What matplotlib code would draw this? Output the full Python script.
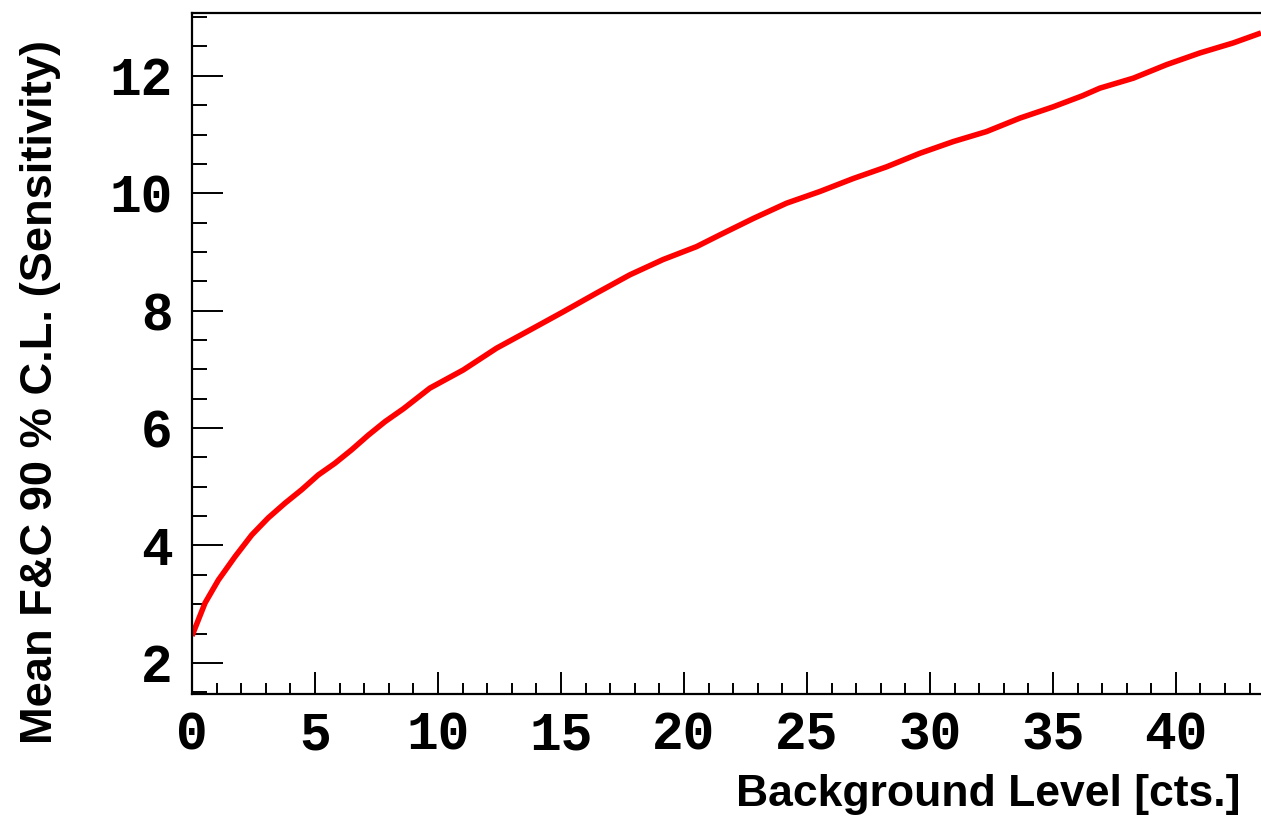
import matplotlib
matplotlib.use("Agg")
import matplotlib.pyplot as plt
from matplotlib.ticker import MultipleLocator

# Data
background = [0.0, 0.53, 1.07, 1.75, 2.43, 3.10, 3.78, 4.46, 5.13, 5.81, 6.49, 7.17,
              7.85, 8.6, 9.67, 11.03, 12.38, 13.74, 15.09, 16.45, 17.80, 19.15,
              20.51, 21.46, 22.82, 24.17, 25.53, 26.88, 28.24, 29.59, 30.95, 32.30,
              33.66, 35.0, 36.2, 36.91, 38.27, 39.62, 40.98, 42.33, 43.46]
sensitivity = [2.46, 3.02, 3.41, 3.81, 4.18, 4.47, 4.72, 4.95, 5.20, 5.40, 5.63, 5.88,
               6.11, 6.33, 6.68, 6.99, 7.36, 7.67, 7.98, 8.30, 8.61, 8.87,
               9.09, 9.29, 9.57, 9.83, 10.03, 10.25, 10.45, 10.68, 10.88, 11.05,
               11.28, 11.47, 11.66, 11.79, 11.96, 12.19, 12.39, 12.56, 12.73]

x_label = "Background Level [cts.]"
y_label = "Mean F&C 90 % C.L. (Sensitivity)"

W, H = 1261, 819
fig = plt.figure(figsize=(W / 100, H / 100), dpi=100)
left, right, bottom, top = 192 / W, 1.0, 1 - 694 / H, 1 - 13 / H
ax = fig.add_axes([left, bottom, right - left, top - bottom])

ax.plot(background, sensitivity, color="#ff0000", lw=4.0, solid_joinstyle="round",
        solid_capstyle="butt")

ax.set_xlim(0, 43.46)
ax.set_ylim(1.47, 13.07)

ax.xaxis.set_major_locator(MultipleLocator(5))
ax.xaxis.set_minor_locator(MultipleLocator(1))
ax.yaxis.set_major_locator(MultipleLocator(2))
ax.yaxis.set_minor_locator(MultipleLocator(0.5))

ax.spines["right"].set_visible(False)
for s in ("left", "bottom", "top"):
    ax.spines[s].set_linewidth(1.6)

ax.tick_params(axis="x", which="major", direction="in", length=16, width=1.4, pad=12,
               top=False)
ax.tick_params(axis="x", which="minor", direction="in", length=8, width=1.4, top=False)
ax.tick_params(axis="y", which="major", direction="in", length=22, width=1.4, pad=14,
               right=False)
ax.tick_params(axis="y", which="minor", direction="in", length=11, width=1.4, right=False)

for lab in ax.get_xticklabels() + ax.get_yticklabels():
    lab.set_fontfamily("Liberation Mono")
    lab.set_fontweight("bold")
    lab.set_fontsize(38)

fig.text(1240 / W, 1 - 806 / H, x_label, ha="right", va="baseline",
         fontfamily="Liberation Sans", fontweight="bold", fontsize=32)
fig.text(41 / W, 1 - 40 / H, y_label, ha="center", va="top", rotation=90,
         fontfamily="Liberation Sans", fontweight="bold", fontsize=32.6)

fig.savefig("out.png", dpi=100)
